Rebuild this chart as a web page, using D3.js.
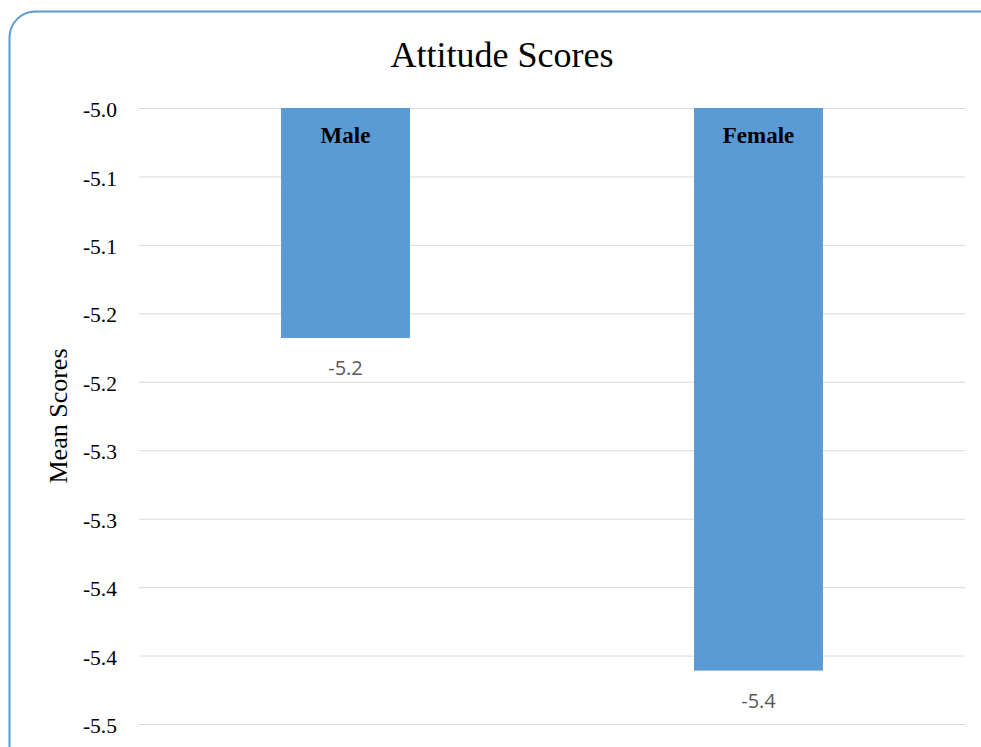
<!DOCTYPE html>
<html>
<head>
<meta charset="utf-8">
<script src="https://cdn.jsdelivr.net/npm/d3@7"></script>
<style>
  html, body { margin: 0; padding: 0; background: #fff; }
  svg { display: block; }
</style>
</head>
<body>
<svg id="chart" width="981" height="747"></svg>
<script>
const categories = ["Male", "Female"];
const values = [-5.168, -5.411];
const valueLabels = ["-5.2", "-5.4"];
const tickValues = [-5.0, -5.05, -5.1, -5.15, -5.2, -5.25, -5.3, -5.35, -5.4, -5.45];
const tickLabels = ["-5.0", "-5.1", "-5.1", "-5.2", "-5.2", "-5.3", "-5.3", "-5.4", "-5.4", "-5.5"];
const titleText = "Attitude Scores";
const yTitle = "Mean Scores";

const svg = d3.select("#chart");
const plot = { left: 139, right: 965, top: 108, bottom: 724 };
const serif = "'Liberation Serif', 'Times New Roman', serif";

// frame
svg.append("rect")
  .attr("x", 9.5).attr("y", 11.5)
  .attr("width", 1000).attr("height", 760)
  .attr("rx", 26).attr("ry", 26)
  .attr("fill", "#fff")
  .attr("stroke", "#5B9BD5").attr("stroke-width", 2);

const x = d3.scaleBand().domain(categories)
  .range([plot.left, plot.right])
  .paddingInner(0.6877).paddingOuter(0.6877 / 2);
const y = d3.scaleLinear().domain([-5.0, -5.45]).range([plot.top, plot.bottom]);

// gridlines + tick labels via axis
const axis = d3.axisLeft(y).tickValues(tickValues)
  .tickFormat((d, i) => tickLabels[i])
  .tickSize(-(plot.right - plot.left)).tickPadding(22);
const g = svg.append("g").attr("transform", `translate(${plot.left},0)`).call(axis);
g.select(".domain").remove();
g.selectAll(".tick line").attr("stroke", "#d9d9d9").attr("stroke-width", 1);
g.selectAll(".tick text")
  .attr("font-family", serif)
  .attr("font-size", 21.5).attr("fill", "#000")
  .attr("dy", "0.4em");

// bars
svg.selectAll("rect.bar").data(categories).enter().append("rect")
  .attr("class", "bar")
  .attr("x", d => x(d))
  .attr("y", y(-5.0))
  .attr("width", x.bandwidth())
  .attr("height", (d, i) => y(values[i]) - y(-5.0))
  .attr("fill", "#5B9BD5");

// category labels inside bars
svg.selectAll("text.cat").data(categories).enter().append("text")
  .attr("class", "cat")
  .attr("x", d => x(d) + x.bandwidth() / 2)
  .attr("y", y(-5.0) + 35)
  .attr("text-anchor", "middle")
  .attr("font-family", serif)
  .attr("font-weight", "bold").attr("font-size", 23).attr("fill", "#000")
  .text(d => d);

// value labels below bars
svg.selectAll("text.val").data(categories).enter().append("text")
  .attr("class", "val")
  .attr("x", d => x(d) + x.bandwidth() / 2)
  .attr("y", (d, i) => y(values[i]) + 37)
  .attr("text-anchor", "middle")
  .attr("font-family", "'Open Sans', 'Liberation Sans', sans-serif")
  .attr("font-size", 20).attr("fill", "#595959")
  .text((d, i) => valueLabels[i]);

// title
svg.append("text")
  .attr("x", 502).attr("y", 67)
  .attr("text-anchor", "middle")
  .attr("font-family", serif)
  .attr("font-size", 36).attr("fill", "#000")
  .text(titleText);

// y axis title
svg.append("text")
  .attr("transform", `translate(67,${(plot.top + plot.bottom) / 2}) rotate(-90)`)
  .attr("text-anchor", "middle")
  .attr("font-family", serif)
  .attr("font-size", 26).attr("fill", "#000")
  .text(yTitle);
</script>
</body>
</html>
